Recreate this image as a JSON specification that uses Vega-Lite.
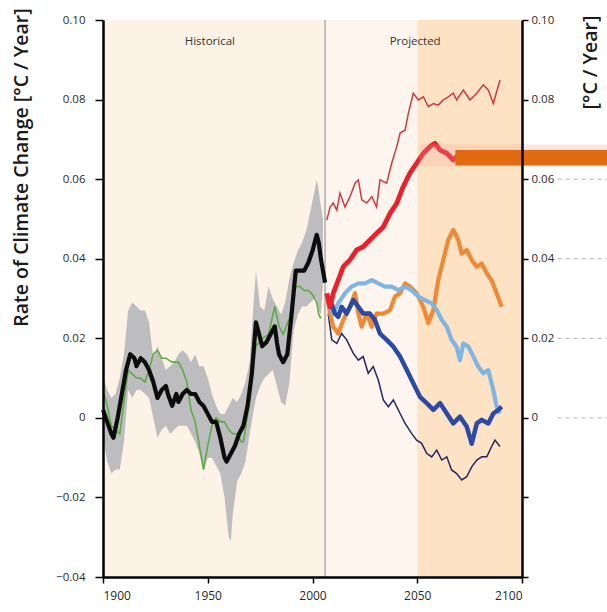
{
  "$schema": "https://vega.github.io/schema/vega-lite/v6.json",
  "width": 419,
  "height": 557,
  "autosize": {"type": "none"},
  "padding": {"left": 103, "top": 20, "right": 85, "bottom": 35},
  "background": "#ffffff",
  "config": {
    "view": {"stroke": null},
    "font": "Open Sans",
    "axis": {"zindex": 1, "domainColor": "#000000", "domainWidth": 2.5, "domainOpacity": 1, "tickColor": "#000000", "tickWidth": 1.5, "tickOpacity": 1, "labelColor": "#2a2a2a", "labelFontSize": 11.5, "grid": false, "titleColor": "#1a1a1a", "labelFont": "Open Sans", "titleFont": "Open Sans"}
  },
  "datasets": {
    "zones": [
      {"zone": "hist", "start": 1900, "end": 2006, "lo": -0.04, "hi": 0.1},
      {"zone": "near", "start": 2006, "end": 2050, "lo": -0.04, "hi": 0.1},
      {"zone": "late", "start": 2050, "end": 2100, "lo": -0.04, "hi": 0.1}
    ],
    "band": [
      {"year": 1900, "lo": -0.005, "hi": 0.010}, {"year": 1902, "lo": -0.011, "hi": 0.007}, {"year": 1904, "lo": -0.014, "hi": 0.005},
      {"year": 1906, "lo": -0.013, "hi": 0.006}, {"year": 1908, "lo": -0.013, "hi": 0.010}, {"year": 1910, "lo": -0.006, "hi": 0.016},
      {"year": 1912, "lo": 0.007, "hi": 0.027}, {"year": 1914, "lo": 0.005, "hi": 0.029}, {"year": 1916, "lo": 0.007, "hi": 0.028},
      {"year": 1918, "lo": 0.007, "hi": 0.027}, {"year": 1920, "lo": 0.006, "hi": 0.027}, {"year": 1922, "lo": 0.005, "hi": 0.024},
      {"year": 1924, "lo": 0.000, "hi": 0.015}, {"year": 1926, "lo": -0.005, "hi": 0.018}, {"year": 1928, "lo": -0.003, "hi": 0.015},
      {"year": 1930, "lo": -0.002, "hi": 0.012}, {"year": 1932, "lo": -0.004, "hi": 0.013}, {"year": 1934, "lo": -0.003, "hi": 0.014},
      {"year": 1936, "lo": -0.002, "hi": 0.016}, {"year": 1938, "lo": -0.002, "hi": 0.017}, {"year": 1940, "lo": -0.002, "hi": 0.016},
      {"year": 1942, "lo": -0.004, "hi": 0.014}, {"year": 1944, "lo": -0.006, "hi": 0.016}, {"year": 1946, "lo": -0.009, "hi": 0.013},
      {"year": 1948, "lo": -0.013, "hi": 0.013}, {"year": 1950, "lo": -0.010, "hi": 0.010}, {"year": 1952, "lo": -0.010, "hi": 0.006},
      {"year": 1954, "lo": -0.012, "hi": 0.003}, {"year": 1956, "lo": -0.014, "hi": 0.001}, {"year": 1958, "lo": -0.020, "hi": 0.001},
      {"year": 1960, "lo": -0.030, "hi": 0.003}, {"year": 1961, "lo": -0.031, "hi": 0.004}, {"year": 1962, "lo": -0.024, "hi": 0.005},
      {"year": 1964, "lo": -0.016, "hi": 0.004}, {"year": 1966, "lo": -0.014, "hi": 0.006}, {"year": 1968, "lo": -0.011, "hi": 0.009},
      {"year": 1970, "lo": -0.004, "hi": 0.014}, {"year": 1972, "lo": 0.002, "hi": 0.030}, {"year": 1973, "lo": 0.005, "hi": 0.037},
      {"year": 1975, "lo": 0.008, "hi": 0.028}, {"year": 1977, "lo": 0.010, "hi": 0.027}, {"year": 1979, "lo": 0.011, "hi": 0.033},
      {"year": 1981, "lo": 0.012, "hi": 0.030}, {"year": 1983, "lo": 0.008, "hi": 0.028}, {"year": 1985, "lo": 0.004, "hi": 0.026},
      {"year": 1987, "lo": 0.003, "hi": 0.029}, {"year": 1989, "lo": 0.009, "hi": 0.035}, {"year": 1991, "lo": 0.022, "hi": 0.039},
      {"year": 1993, "lo": 0.026, "hi": 0.042}, {"year": 1995, "lo": 0.028, "hi": 0.044}, {"year": 1997, "lo": 0.028, "hi": 0.047},
      {"year": 1999, "lo": 0.029, "hi": 0.052}, {"year": 2001, "lo": 0.030, "hi": 0.057}, {"year": 2002, "lo": 0.030, "hi": 0.060},
      {"year": 2003, "lo": 0.027, "hi": 0.057}, {"year": 2004, "lo": 0.026, "hi": 0.053}, {"year": 2005, "lo": 0.034, "hi": 0.050}
    ],
    "lines": [
      {"s": "obs", "year": 1900, "v": 0.007}, {"s": "obs", "year": 1902, "v": 0.003}, {"s": "obs", "year": 1904, "v": -0.002},
      {"s": "obs", "year": 1906, "v": -0.003}, {"s": "obs", "year": 1908, "v": -0.004}, {"s": "obs", "year": 1910, "v": 0.004},
      {"s": "obs", "year": 1912, "v": 0.012}, {"s": "obs", "year": 1914, "v": 0.011}, {"s": "obs", "year": 1916, "v": 0.010},
      {"s": "obs", "year": 1918, "v": 0.010}, {"s": "obs", "year": 1920, "v": 0.009}, {"s": "obs", "year": 1922, "v": 0.012},
      {"s": "obs", "year": 1924, "v": 0.016}, {"s": "obs", "year": 1926, "v": 0.017}, {"s": "obs", "year": 1928, "v": 0.015},
      {"s": "obs", "year": 1930, "v": 0.015}, {"s": "obs", "year": 1933, "v": 0.014}, {"s": "obs", "year": 1936, "v": 0.014},
      {"s": "obs", "year": 1938, "v": 0.012}, {"s": "obs", "year": 1940, "v": 0.009}, {"s": "obs", "year": 1942, "v": 0.002},
      {"s": "obs", "year": 1944, "v": -0.001}, {"s": "obs", "year": 1946, "v": -0.007}, {"s": "obs", "year": 1948, "v": -0.013},
      {"s": "obs", "year": 1950, "v": -0.007}, {"s": "obs", "year": 1952, "v": -0.002}, {"s": "obs", "year": 1954, "v": 0.000},
      {"s": "obs", "year": 1956, "v": -0.001}, {"s": "obs", "year": 1958, "v": -0.001}, {"s": "obs", "year": 1960, "v": -0.003},
      {"s": "obs", "year": 1962, "v": -0.004}, {"s": "obs", "year": 1964, "v": -0.004}, {"s": "obs", "year": 1966, "v": -0.006},
      {"s": "obs", "year": 1967, "v": -0.006}, {"s": "obs", "year": 1970, "v": 0.004}, {"s": "obs", "year": 1973, "v": 0.018},
      {"s": "obs", "year": 1976, "v": 0.020}, {"s": "obs", "year": 1979, "v": 0.021}, {"s": "obs", "year": 1982, "v": 0.028},
      {"s": "obs", "year": 1984, "v": 0.023}, {"s": "obs", "year": 1986, "v": 0.021}, {"s": "obs", "year": 1989, "v": 0.025},
      {"s": "obs", "year": 1992, "v": 0.033}, {"s": "obs", "year": 1994, "v": 0.033}, {"s": "obs", "year": 1996, "v": 0.032},
      {"s": "obs", "year": 1998, "v": 0.032}, {"s": "obs", "year": 2000, "v": 0.031}, {"s": "obs", "year": 2002, "v": 0.029},
      {"s": "obs", "year": 2003, "v": 0.026}, {"s": "obs", "year": 2004, "v": 0.025},

      {"s": "hist", "year": 1900, "v": 0.002}, {"s": "hist", "year": 1902, "v": -0.001}, {"s": "hist", "year": 1904, "v": -0.004},
      {"s": "hist", "year": 1905, "v": -0.005}, {"s": "hist", "year": 1907, "v": 0.000}, {"s": "hist", "year": 1909, "v": 0.006},
      {"s": "hist", "year": 1911, "v": 0.012}, {"s": "hist", "year": 1913, "v": 0.016}, {"s": "hist", "year": 1915, "v": 0.015},
      {"s": "hist", "year": 1916, "v": 0.013}, {"s": "hist", "year": 1918, "v": 0.015}, {"s": "hist", "year": 1920, "v": 0.014},
      {"s": "hist", "year": 1922, "v": 0.012}, {"s": "hist", "year": 1924, "v": 0.009}, {"s": "hist", "year": 1926, "v": 0.005},
      {"s": "hist", "year": 1928, "v": 0.007}, {"s": "hist", "year": 1930, "v": 0.008}, {"s": "hist", "year": 1931, "v": 0.006},
      {"s": "hist", "year": 1933, "v": 0.003}, {"s": "hist", "year": 1935, "v": 0.006}, {"s": "hist", "year": 1936, "v": 0.004},
      {"s": "hist", "year": 1938, "v": 0.006}, {"s": "hist", "year": 1940, "v": 0.007}, {"s": "hist", "year": 1942, "v": 0.006},
      {"s": "hist", "year": 1944, "v": 0.006}, {"s": "hist", "year": 1946, "v": 0.004}, {"s": "hist", "year": 1948, "v": 0.003},
      {"s": "hist", "year": 1950, "v": 0.001}, {"s": "hist", "year": 1952, "v": -0.001}, {"s": "hist", "year": 1954, "v": -0.001},
      {"s": "hist", "year": 1956, "v": -0.005}, {"s": "hist", "year": 1958, "v": -0.010}, {"s": "hist", "year": 1959, "v": -0.011},
      {"s": "hist", "year": 1961, "v": -0.009}, {"s": "hist", "year": 1963, "v": -0.007}, {"s": "hist", "year": 1965, "v": -0.004},
      {"s": "hist", "year": 1967, "v": -0.002}, {"s": "hist", "year": 1969, "v": 0.003}, {"s": "hist", "year": 1971, "v": 0.011},
      {"s": "hist", "year": 1973, "v": 0.024}, {"s": "hist", "year": 1975, "v": 0.020}, {"s": "hist", "year": 1976, "v": 0.018},
      {"s": "hist", "year": 1978, "v": 0.019}, {"s": "hist", "year": 1980, "v": 0.021}, {"s": "hist", "year": 1982, "v": 0.023},
      {"s": "hist", "year": 1983, "v": 0.019}, {"s": "hist", "year": 1984, "v": 0.016}, {"s": "hist", "year": 1986, "v": 0.014},
      {"s": "hist", "year": 1988, "v": 0.016}, {"s": "hist", "year": 1990, "v": 0.026}, {"s": "hist", "year": 1992, "v": 0.037},
      {"s": "hist", "year": 1994, "v": 0.037}, {"s": "hist", "year": 1996, "v": 0.037}, {"s": "hist", "year": 1998, "v": 0.039},
      {"s": "hist", "year": 2000, "v": 0.042}, {"s": "hist", "year": 2002, "v": 0.046}, {"s": "hist", "year": 2003, "v": 0.044},
      {"s": "hist", "year": 2004, "v": 0.040}, {"s": "hist", "year": 2006, "v": 0.034},

      {"s": "redthin", "year": 2006.8, "v": 0.0497}, {"s": "redthin", "year": 2008.4, "v": 0.053}, {"s": "redthin", "year": 2009.9, "v": 0.054},
      {"s": "redthin", "year": 2011.6, "v": 0.0522}, {"s": "redthin", "year": 2013.1, "v": 0.0565}, {"s": "redthin", "year": 2015.5, "v": 0.053},
      {"s": "redthin", "year": 2017.9, "v": 0.0556}, {"s": "redthin", "year": 2020.3, "v": 0.059}, {"s": "redthin", "year": 2021.9, "v": 0.0598},
      {"s": "redthin", "year": 2023.5, "v": 0.0548}, {"s": "redthin", "year": 2025.9, "v": 0.054}, {"s": "redthin", "year": 2028.3, "v": 0.0556},
      {"s": "redthin", "year": 2030.6, "v": 0.053}, {"s": "redthin", "year": 2032.2, "v": 0.0598}, {"s": "redthin", "year": 2035.4, "v": 0.059},
      {"s": "redthin", "year": 2037.8, "v": 0.064}, {"s": "redthin", "year": 2040.2, "v": 0.0681}, {"s": "redthin", "year": 2041.8, "v": 0.0716},
      {"s": "redthin", "year": 2044.2, "v": 0.0723}, {"s": "redthin", "year": 2045.7, "v": 0.0764}, {"s": "redthin", "year": 2048.1, "v": 0.0816},
      {"s": "redthin", "year": 2050.5, "v": 0.0799}, {"s": "redthin", "year": 2052.9, "v": 0.0807}, {"s": "redthin", "year": 2055.3, "v": 0.0782},
      {"s": "redthin", "year": 2057.7, "v": 0.079}, {"s": "redthin", "year": 2060.0, "v": 0.0786}, {"s": "redthin", "year": 2062.4, "v": 0.0799},
      {"s": "redthin", "year": 2064.8, "v": 0.0807}, {"s": "redthin", "year": 2067.2, "v": 0.0816}, {"s": "redthin", "year": 2068.8, "v": 0.0799},
      {"s": "redthin", "year": 2072.0, "v": 0.0824}, {"s": "redthin", "year": 2075.2, "v": 0.0799}, {"s": "redthin", "year": 2078.4, "v": 0.0816},
      {"s": "redthin", "year": 2081.5, "v": 0.0837}, {"s": "redthin", "year": 2083.9, "v": 0.0824}, {"s": "redthin", "year": 2086.3, "v": 0.079},
      {"s": "redthin", "year": 2089.5, "v": 0.0849},

      {"s": "navy", "year": 2007.5, "v": 0.0262}, {"s": "navy", "year": 2009.2, "v": 0.0196}, {"s": "navy", "year": 2011.6, "v": 0.0187},
      {"s": "navy", "year": 2013.9, "v": 0.0212}, {"s": "navy", "year": 2016.3, "v": 0.0196}, {"s": "navy", "year": 2019.5, "v": 0.0162},
      {"s": "navy", "year": 2021.9, "v": 0.0145}, {"s": "navy", "year": 2024.2, "v": 0.0154}, {"s": "navy", "year": 2026.6, "v": 0.0112},
      {"s": "navy", "year": 2029.0, "v": 0.0129}, {"s": "navy", "year": 2031.4, "v": 0.0095}, {"s": "navy", "year": 2033.8, "v": 0.0045},
      {"s": "navy", "year": 2036.2, "v": 0.0028}, {"s": "navy", "year": 2038.6, "v": 0.0045}, {"s": "navy", "year": 2041.8, "v": 0.0011},
      {"s": "navy", "year": 2044.2, "v": -0.0014}, {"s": "navy", "year": 2047.3, "v": -0.0039}, {"s": "navy", "year": 2049.7, "v": -0.0056},
      {"s": "navy", "year": 2052.1, "v": -0.0064}, {"s": "navy", "year": 2054.5, "v": -0.0089}, {"s": "navy", "year": 2056.9, "v": -0.0098},
      {"s": "navy", "year": 2059.3, "v": -0.0081}, {"s": "navy", "year": 2061.7, "v": -0.0106}, {"s": "navy", "year": 2064.1, "v": -0.0098},
      {"s": "navy", "year": 2066.4, "v": -0.0131}, {"s": "navy", "year": 2068.8, "v": -0.014}, {"s": "navy", "year": 2071.2, "v": -0.0156},
      {"s": "navy", "year": 2073.6, "v": -0.0148}, {"s": "navy", "year": 2076.0, "v": -0.0123}, {"s": "navy", "year": 2078.4, "v": -0.0106},
      {"s": "navy", "year": 2080.8, "v": -0.0098}, {"s": "navy", "year": 2083.2, "v": -0.0098}, {"s": "navy", "year": 2085.5, "v": -0.0072},
      {"s": "navy", "year": 2087.1, "v": -0.0056}, {"s": "navy", "year": 2089.5, "v": -0.0072},

      {"s": "orange", "year": 2006.8, "v": 0.0313}, {"s": "orange", "year": 2008.4, "v": 0.0262}, {"s": "orange", "year": 2009.9, "v": 0.0229},
      {"s": "orange", "year": 2012.3, "v": 0.0212}, {"s": "orange", "year": 2014.7, "v": 0.0246}, {"s": "orange", "year": 2017.9, "v": 0.0279},
      {"s": "orange", "year": 2020.3, "v": 0.0313}, {"s": "orange", "year": 2021.9, "v": 0.0262}, {"s": "orange", "year": 2023.5, "v": 0.0229},
      {"s": "orange", "year": 2025.9, "v": 0.0262}, {"s": "orange", "year": 2028.3, "v": 0.0229}, {"s": "orange", "year": 2030.6, "v": 0.0262},
      {"s": "orange", "year": 2033.8, "v": 0.0262}, {"s": "orange", "year": 2037.0, "v": 0.0271}, {"s": "orange", "year": 2039.4, "v": 0.0305},
      {"s": "orange", "year": 2041.8, "v": 0.0313}, {"s": "orange", "year": 2044.2, "v": 0.0338}, {"s": "orange", "year": 2046.5, "v": 0.033},
      {"s": "orange", "year": 2049.7, "v": 0.0313}, {"s": "orange", "year": 2052.9, "v": 0.0279}, {"s": "orange", "year": 2055.3, "v": 0.0238},
      {"s": "orange", "year": 2057.7, "v": 0.0271}, {"s": "orange", "year": 2060.0, "v": 0.0346}, {"s": "orange", "year": 2062.4, "v": 0.0397},
      {"s": "orange", "year": 2064.8, "v": 0.0447}, {"s": "orange", "year": 2067.2, "v": 0.0472}, {"s": "orange", "year": 2069.6, "v": 0.0447},
      {"s": "orange", "year": 2071.2, "v": 0.0413}, {"s": "orange", "year": 2073.6, "v": 0.0422}, {"s": "orange", "year": 2076.0, "v": 0.0397},
      {"s": "orange", "year": 2078.4, "v": 0.038}, {"s": "orange", "year": 2080.8, "v": 0.0388}, {"s": "orange", "year": 2083.2, "v": 0.0363},
      {"s": "orange", "year": 2085.5, "v": 0.0346}, {"s": "orange", "year": 2087.9, "v": 0.0313}, {"s": "orange", "year": 2090.3, "v": 0.0279},

      {"s": "lblue", "year": 2007.5, "v": 0.0288}, {"s": "lblue", "year": 2009.9, "v": 0.0262}, {"s": "lblue", "year": 2012.3, "v": 0.0288},
      {"s": "lblue", "year": 2015.5, "v": 0.0313}, {"s": "lblue", "year": 2018.7, "v": 0.033}, {"s": "lblue", "year": 2021.9, "v": 0.0338},
      {"s": "lblue", "year": 2025.1, "v": 0.0338}, {"s": "lblue", "year": 2028.3, "v": 0.0346}, {"s": "lblue", "year": 2031.4, "v": 0.0338},
      {"s": "lblue", "year": 2034.6, "v": 0.033}, {"s": "lblue", "year": 2037.8, "v": 0.033}, {"s": "lblue", "year": 2041.0, "v": 0.0321},
      {"s": "lblue", "year": 2044.2, "v": 0.033}, {"s": "lblue", "year": 2047.3, "v": 0.0321}, {"s": "lblue", "year": 2050.5, "v": 0.0305},
      {"s": "lblue", "year": 2053.7, "v": 0.0296}, {"s": "lblue", "year": 2056.9, "v": 0.0288}, {"s": "lblue", "year": 2059.3, "v": 0.0271},
      {"s": "lblue", "year": 2061.7, "v": 0.0246}, {"s": "lblue", "year": 2064.1, "v": 0.0229}, {"s": "lblue", "year": 2066.4, "v": 0.0196},
      {"s": "lblue", "year": 2068.8, "v": 0.0179}, {"s": "lblue", "year": 2070.4, "v": 0.0145}, {"s": "lblue", "year": 2072.0, "v": 0.0187},
      {"s": "lblue", "year": 2074.4, "v": 0.0179}, {"s": "lblue", "year": 2076.8, "v": 0.0154}, {"s": "lblue", "year": 2079.1, "v": 0.0129},
      {"s": "lblue", "year": 2081.5, "v": 0.0112}, {"s": "lblue", "year": 2083.9, "v": 0.012}, {"s": "lblue", "year": 2086.3, "v": 0.007},
      {"s": "lblue", "year": 2087.9, "v": 0.0028}, {"s": "lblue", "year": 2089.5, "v": 0.0011},

      {"s": "dblue", "year": 2008.4, "v": 0.0296}, {"s": "dblue", "year": 2010.7, "v": 0.0262}, {"s": "dblue", "year": 2012.3, "v": 0.0254},
      {"s": "dblue", "year": 2013.9, "v": 0.0279}, {"s": "dblue", "year": 2016.3, "v": 0.0262}, {"s": "dblue", "year": 2019.5, "v": 0.0296},
      {"s": "dblue", "year": 2021.9, "v": 0.0279}, {"s": "dblue", "year": 2024.2, "v": 0.0262}, {"s": "dblue", "year": 2027.4, "v": 0.0262},
      {"s": "dblue", "year": 2029.8, "v": 0.0246}, {"s": "dblue", "year": 2032.2, "v": 0.0212}, {"s": "dblue", "year": 2035.4, "v": 0.0196},
      {"s": "dblue", "year": 2038.6, "v": 0.0179}, {"s": "dblue", "year": 2041.8, "v": 0.0154}, {"s": "dblue", "year": 2045.0, "v": 0.012},
      {"s": "dblue", "year": 2048.1, "v": 0.0087}, {"s": "dblue", "year": 2051.3, "v": 0.0053}, {"s": "dblue", "year": 2054.5, "v": 0.0037},
      {"s": "dblue", "year": 2057.7, "v": 0.002}, {"s": "dblue", "year": 2060.9, "v": 0.0037}, {"s": "dblue", "year": 2064.1, "v": 0.0011},
      {"s": "dblue", "year": 2067.2, "v": -0.0014}, {"s": "dblue", "year": 2070.4, "v": 0.0003}, {"s": "dblue", "year": 2073.6, "v": -0.0022},
      {"s": "dblue", "year": 2076.0, "v": -0.0065}, {"s": "dblue", "year": 2078.4, "v": -0.0014}, {"s": "dblue", "year": 2080.8, "v": -0.0005},
      {"s": "dblue", "year": 2083.9, "v": -0.0014}, {"s": "dblue", "year": 2086.3, "v": 0.0011}, {"s": "dblue", "year": 2088.7, "v": 0.002},
      {"s": "dblue", "year": 2090.3, "v": 0.0028},

      {"s": "red", "year": 2006.8, "v": 0.0313}, {"s": "red", "year": 2008.4, "v": 0.0279}, {"s": "red", "year": 2009.9, "v": 0.0313},
      {"s": "red", "year": 2012.3, "v": 0.0346}, {"s": "red", "year": 2014.7, "v": 0.038}, {"s": "red", "year": 2017.9, "v": 0.0397},
      {"s": "red", "year": 2021.1, "v": 0.0422}, {"s": "red", "year": 2024.2, "v": 0.043}, {"s": "red", "year": 2027.4, "v": 0.0447},
      {"s": "red", "year": 2030.6, "v": 0.0464}, {"s": "red", "year": 2033.8, "v": 0.048}, {"s": "red", "year": 2037.0, "v": 0.0514},
      {"s": "red", "year": 2040.2, "v": 0.0539}, {"s": "red", "year": 2043.3, "v": 0.0581}, {"s": "red", "year": 2046.5, "v": 0.0615},
      {"s": "red", "year": 2049.7, "v": 0.064}, {"s": "red", "year": 2052.9, "v": 0.0665}, {"s": "red", "year": 2056.1, "v": 0.0682},
      {"s": "red", "year": 2058.5, "v": 0.069}, {"s": "red", "year": 2060.9, "v": 0.0673}, {"s": "red", "year": 2064.1, "v": 0.0665},
      {"s": "red", "year": 2067.2, "v": 0.0648}, {"s": "red", "year": 2070.4, "v": 0.0665}, {"s": "red", "year": 2075.2, "v": 0.0657},
      {"s": "red", "year": 2080.0, "v": 0.0657}, {"s": "red", "year": 2084.7, "v": 0.0653}, {"s": "red", "year": 2089.5, "v": 0.0657}
    ],
    "dashes": [{"v": 0.06}, {"v": 0.04}, {"v": 0.02}, {"v": 0}],
    "labels": [{"year": 1951, "v": 0.0945, "t": "Historical"}, {"year": 2049, "v": 0.0945, "t": "Projected"}],
    "marker": [{"a": 2051, "b": 2140.6, "lo": 0.0632, "hi": 0.0688}],
    "bar": [{"a": 2068.2, "b": 2140.6, "lo": 0.0634, "hi": 0.0673}]
  },
  "layer": [
    {
      "data": {"name": "zones"},
      "mark": {"type": "rect"},
      "encoding": {
        "x": {"field": "start", "type": "quantitative", "scale": {"domain": [1900, 2100], "nice": false, "zero": false},
              "axis": {"values": [1900, 1950, 2000, 2050, 2100], "format": "d", "labelFlush": true, "tickSize": 6, "labelPadding": 7, "title": null, "labelFontSize": 12,
                       "domainColor": "#000000", "domainWidth": 2.5, "tickColor": "#000000", "zindex": 2}},
        "x2": {"field": "end"},
        "y": {"field": "lo", "type": "quantitative", "scale": {"domain": [-0.04, 0.1], "nice": false, "zero": false},
              "axis": {"orient": "left", "values": [-0.04, -0.02, 0, 0.02, 0.04, 0.06, 0.08, 0.1], "labelExpr": "datum.value == 0 ? '0' : format(datum.value, '.2f')",
                       "domainColor": "#000000", "domainWidth": 2.5, "tickColor": "#000000", "zindex": 2,
                       "tickSize": 8, "labelPadding": 10, "title": "Rate of Climate Change [°C / Year]", "titleFontSize": 19.5, "titleFontWeight": 600,
                       "titleX": -82, "titleY": 147, "titleAngle": -90, "titleAlign": "center", "titleBaseline": "middle"}},
        "y2": {"field": "hi"},
        "color": {"field": "zone", "type": "nominal", "scale": {"domain": ["hist", "near", "late"], "range": ["#fcf3e6", "#fdf5ee", "#fde3c3"]}, "legend": null}
      }
    },
    {
      "data": {"values": [{"year": 2006}]},
      "mark": {"type": "rule", "color": "#c4bcb4", "strokeWidth": 2},
      "encoding": {"x": {"field": "year", "type": "quantitative"}}
    },
    {
      "data": {"name": "band"},
      "mark": {"type": "area", "color": "#b9b9bd", "opacity": 0.95},
      "encoding": {
        "x": {"field": "year", "type": "quantitative"},
        "y": {"field": "lo", "type": "quantitative", "axis": null},
        "y2": {"field": "hi"}
      }
    },
    {
      "data": {"name": "lines"},
      "transform": [{"filter": "datum.s == 'obs'"}],
      "mark": {"type": "line", "color": "#5daa45", "strokeWidth": 1.6},
      "encoding": {"x": {"field": "year", "type": "quantitative"}, "y": {"field": "v", "type": "quantitative", "axis": null}}
    },
    {
      "data": {"name": "lines"},
      "transform": [{"filter": "datum.s == 'hist'"}],
      "mark": {"type": "line", "color": "#0d0d0d", "strokeWidth": 4.2, "strokeJoin": "round"},
      "encoding": {"x": {"field": "year", "type": "quantitative"},
        "y": {"field": "v", "type": "quantitative",
              "axis": {"orient": "right", "values": [-0.04, -0.02, 0, 0.02, 0.04, 0.06, 0.08, 0.1],
                       "labelExpr": "datum.value < 0 ? '' : (datum.value == 0 ? '0' : format(datum.value, '.2f'))",
                       "domainColor": "#000000", "domainWidth": 2.5, "tickColor": "#000000", "zindex": 2,
                       "tickSize": 6, "labelPadding": 3, "title": "[°C / Year]", "titleFontSize": 19.5, "titleFontWeight": 600,
                       "titleX": 68, "titleY": 42, "titleAngle": -90, "titleAlign": "center", "titleBaseline": "middle"}}}
    },
    {
      "data": {"name": "lines"},
      "transform": [{"filter": "datum.s == 'redthin'"}],
      "mark": {"type": "line", "color": "#cf3a40", "strokeWidth": 1.5},
      "encoding": {"x": {"field": "year", "type": "quantitative"}, "y": {"field": "v", "type": "quantitative", "axis": null}}
    },
    {
      "data": {"name": "lines"},
      "transform": [{"filter": "datum.s == 'navy'"}],
      "mark": {"type": "line", "color": "#1f2766", "strokeWidth": 1.5},
      "encoding": {"x": {"field": "year", "type": "quantitative"}, "y": {"field": "v", "type": "quantitative", "axis": null}}
    },
    {
      "data": {"name": "lines"},
      "transform": [{"filter": "datum.s == 'orange'"}],
      "mark": {"type": "line", "color": "#ee8a36", "strokeWidth": 4.2, "strokeJoin": "round"},
      "encoding": {"x": {"field": "year", "type": "quantitative"}, "y": {"field": "v", "type": "quantitative", "axis": null}}
    },
    {
      "data": {"name": "lines"},
      "transform": [{"filter": "datum.s == 'lblue'"}],
      "mark": {"type": "line", "color": "#7fb5e2", "strokeWidth": 4.2, "strokeJoin": "round"},
      "encoding": {"x": {"field": "year", "type": "quantitative"}, "y": {"field": "v", "type": "quantitative", "axis": null}}
    },
    {
      "data": {"name": "lines"},
      "transform": [{"filter": "datum.s == 'dblue'"}],
      "mark": {"type": "line", "color": "#2c49a6", "strokeWidth": 4.5, "strokeJoin": "round"},
      "encoding": {"x": {"field": "year", "type": "quantitative"}, "y": {"field": "v", "type": "quantitative", "axis": null}}
    },
    {
      "data": {"name": "lines"},
      "transform": [{"filter": "datum.s == 'red'"}],
      "mark": {"type": "line", "color": "#e8212b", "strokeWidth": 4.8, "strokeJoin": "round"},
      "encoding": {"x": {"field": "year", "type": "quantitative"}, "y": {"field": "v", "type": "quantitative", "axis": null}}
    },
    {
      "data": {"name": "marker"},
      "mark": {"type": "rect", "color": "#f2a0a0", "opacity": 0.25},
      "encoding": {"x": {"field": "a", "type": "quantitative"}, "x2": {"field": "b"}, "y": {"field": "lo", "type": "quantitative", "axis": null}, "y2": {"field": "hi"}}
    },
    {
      "data": {"name": "bar"},
      "mark": {"type": "rect", "color": "#e26b12"},
      "encoding": {"x": {"field": "a", "type": "quantitative"}, "x2": {"field": "b"}, "y": {"field": "lo", "type": "quantitative", "axis": null}, "y2": {"field": "hi"}}
    },
    {
      "data": {"name": "dashes"},
      "mark": {"type": "rule", "color": "#b0b0b0", "strokeDash": [4, 4], "strokeWidth": 1},
      "encoding": {"x": {"datum": 2117}, "x2": {"datum": 2141}, "y": {"field": "v", "type": "quantitative", "axis": null}}
    },
    {
      "data": {"name": "labels"},
      "mark": {"type": "text", "fontSize": 11.5, "color": "#333333", "font": "Open Sans"},
      "encoding": {"x": {"field": "year", "type": "quantitative"}, "y": {"field": "v", "type": "quantitative", "axis": null}, "text": {"field": "t"}}
    }
  ],
  "resolve": {"axis": {"y": "independent"}}
}
